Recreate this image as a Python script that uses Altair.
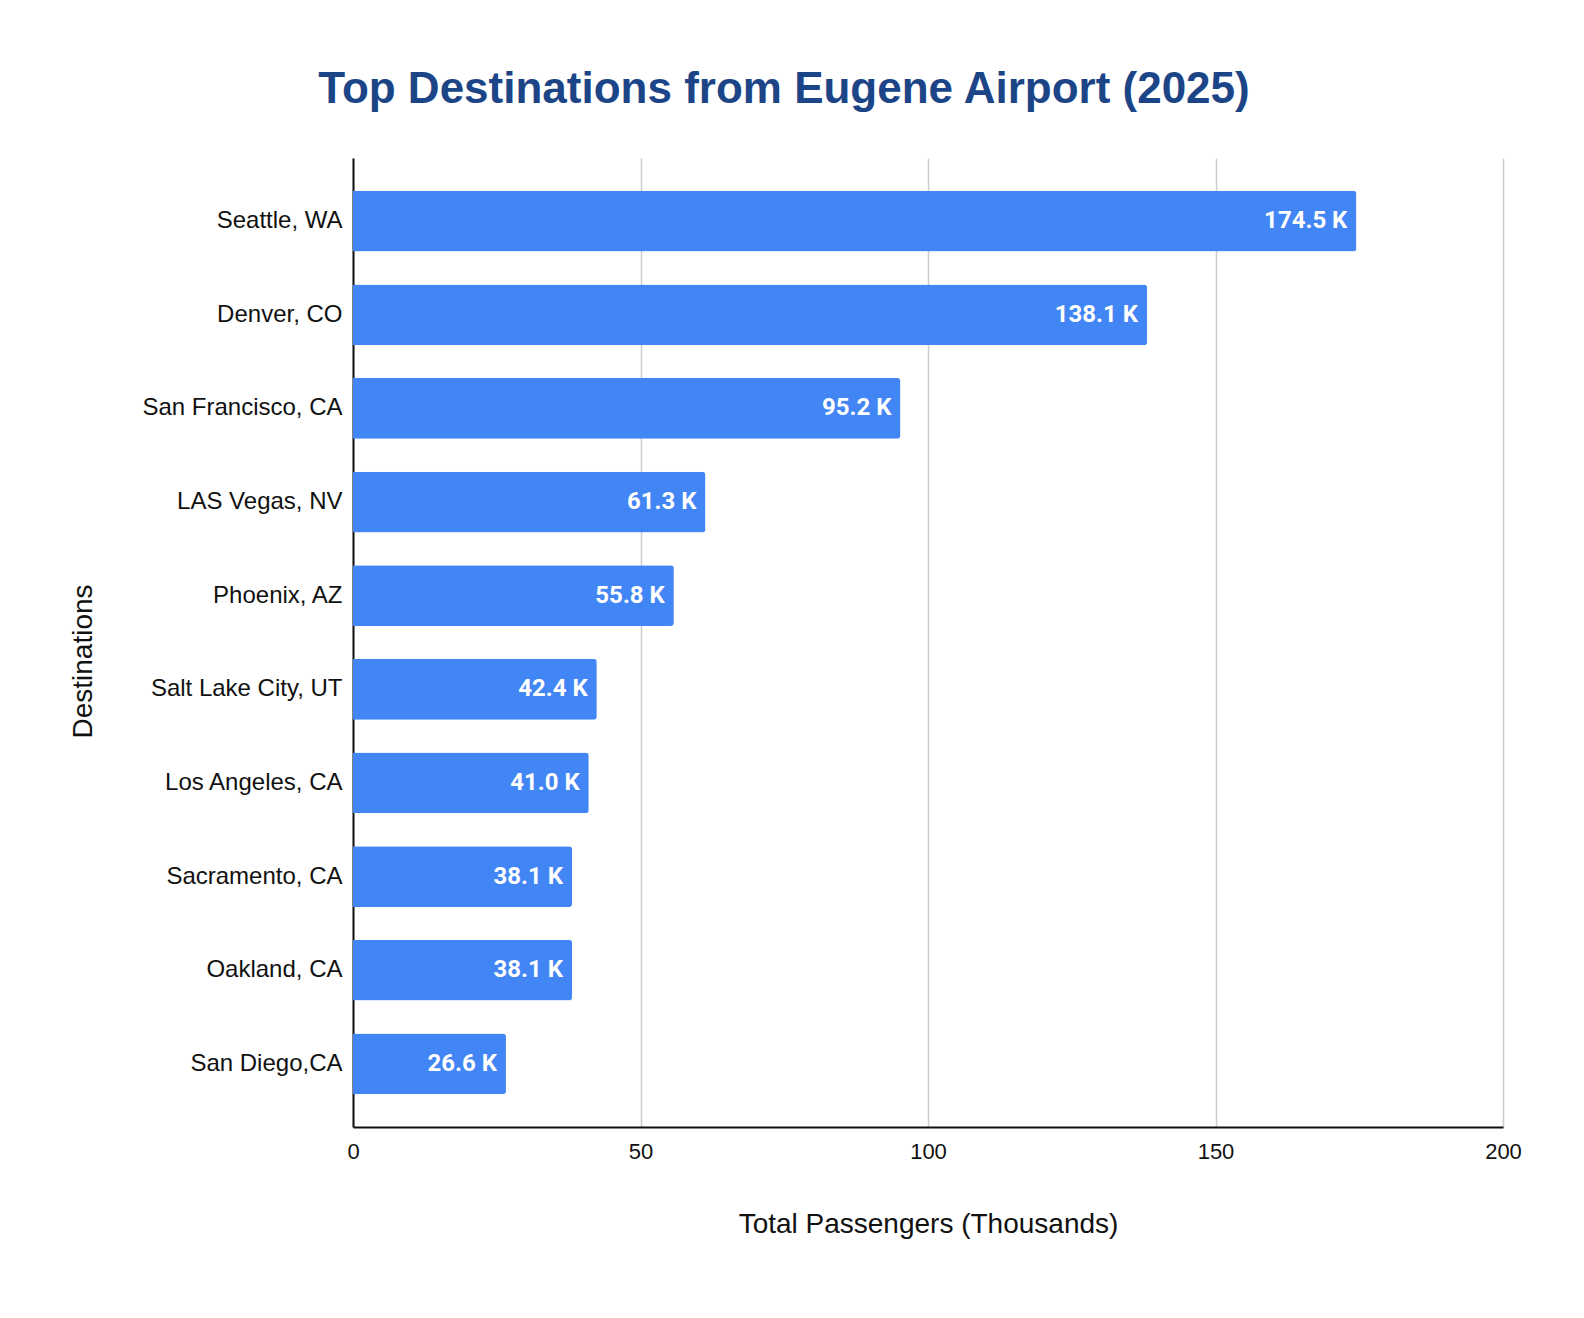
import altair as alt
import pandas as pd

destinations = ["Seattle, WA", "Denver, CO", "San Francisco, CA", "LAS Vegas, NV",
                "Phoenix, AZ", "Salt Lake City, UT", "Los Angeles, CA",
                "Sacramento, CA", "Oakland, CA", "San Diego,CA"]
passengers = [174.5, 138.1, 95.2, 61.3, 55.8, 42.4, 41.0, 38.1, 38.1, 26.6]
x_ticks = [0, 50, 100, 150, 200]

df = pd.DataFrame({"Destination": destinations, "Passengers": passengers})

W, H = 1150, 969

y_enc = alt.Y("Destination:N", sort=destinations,
              scale=alt.Scale(paddingInner=0.35, paddingOuter=0.35),
              axis=alt.Axis(title="Destinations", labelFont="Liberation Sans",
                            labelFontSize=24, labelColor="#111111", labelPadding=11,
                            labelLimit=400,
                            ticks=False, domainColor="#111111", domainWidth=2,
                            titleFont="Liberation Sans", titleFontSize=28,
                            titleFontWeight="normal", titleColor="#111111",
                            titlePadding=56, titleY=503))
x_enc = alt.X("Passengers:Q",
              scale=alt.Scale(domain=[0, 200], nice=False),
              axis=alt.Axis(title="Total Passengers (Thousands)", values=x_ticks,
                            labelFont="Liberation Sans", labelFontSize=22,
                            labelColor="#111111", labelPadding=14, ticks=False,
                            labelFlush=False, labelOverlap=False,
                            domainColor="#111111", domainWidth=2,
                            gridColor="#cccccc", gridWidth=1.5,
                            titleFont="Liberation Sans", titleFontSize=28,
                            titleFontWeight="normal", titleColor="#111111",
                            titlePadding=48))

bars = alt.Chart(df).mark_bar(color="#4285F4", cornerRadiusEnd=3).encode(
    x=x_enc, y=y_enc)

labels = alt.Chart(df).transform_calculate(
    lab="format(datum.Passengers, '.1f') + ' K'"
).mark_text(align="right", baseline="middle", dx=-9, color="white",
            font="Roboto", fontWeight="bold", fontSize=24).encode(
    x=alt.X("Passengers:Q"), y=alt.Y("Destination:N", sort=destinations), text="lab:N")

chart = alt.layer(bars, labels).properties(
    width=W, height=H,
    background="white",
    title=alt.TitleParams("Top Destinations from Eugene Airport (2025)",
                          font="Liberation Sans", fontSize=44, fontWeight="bold",
                          color="#1c4587", anchor="middle", dx=-144, offset=46),
    padding={"left": 345, "top": 150, "right": 50, "bottom": 120},
    autosize=alt.AutoSizeParams(type="none"),
).configure_view(stroke=None)

chart.save("out.html", embed_options={"renderer": "svg", "actions": False})
